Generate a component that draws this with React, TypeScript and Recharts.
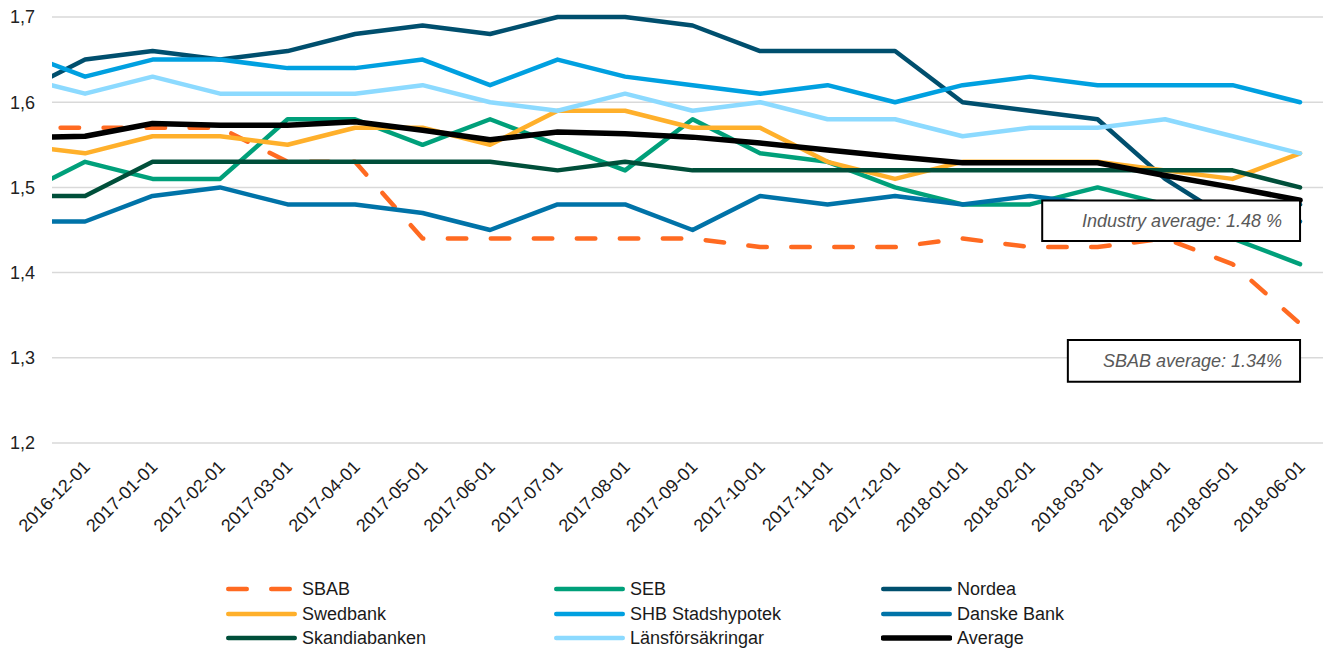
import { LineChart, Line, XAxis, YAxis, CartesianGrid, ReferenceArea, Label } from 'recharts';

const FONT = '"Liberation Sans", Arial, sans-serif';

// first month (2016-11-01) sits left of the visible plot and is clipped
const DATES = [
  '2016-11-01', '2016-12-01', '2017-01-01', '2017-02-01', '2017-03-01', '2017-04-01', '2017-05-01',
  '2017-06-01', '2017-07-01', '2017-08-01', '2017-09-01', '2017-10-01', '2017-11-01', '2017-12-01',
  '2018-01-01', '2018-02-01', '2018-03-01', '2018-04-01', '2018-05-01', '2018-06-01',
];

const SBAB = [1.57, 1.57, 1.57, 1.57, 1.53, 1.53, 1.44, 1.44, 1.44, 1.44, 1.44, 1.43, 1.43, 1.43, 1.44, 1.43, 1.43, 1.44, 1.41, 1.34];
const SEB = [1.49, 1.53, 1.51, 1.51, 1.58, 1.58, 1.55, 1.58, 1.55, 1.52, 1.58, 1.54, 1.53, 1.5, 1.48, 1.48, 1.5, 1.48, 1.44, 1.41];
const NORDEA = [1.61, 1.65, 1.66, 1.65, 1.66, 1.68, 1.69, 1.68, 1.7, 1.7, 1.69, 1.66, 1.66, 1.66, 1.6, 1.59, 1.58, 1.51, 1.46, 1.48];
const SWEDBANK = [1.55, 1.54, 1.56, 1.56, 1.55, 1.57, 1.57, 1.55, 1.59, 1.59, 1.57, 1.57, 1.53, 1.51, 1.53, 1.53, 1.53, 1.52, 1.51, 1.54];
const SHB = [1.66, 1.63, 1.65, 1.65, 1.64, 1.64, 1.65, 1.62, 1.65, 1.63, 1.62, 1.61, 1.62, 1.6, 1.62, 1.63, 1.62, 1.62, 1.62, 1.6];
const DANSKE = [1.46, 1.46, 1.49, 1.5, 1.48, 1.48, 1.47, 1.45, 1.48, 1.48, 1.45, 1.49, 1.48, 1.49, 1.48, 1.49, 1.48, 1.48, 1.47, 1.46];
const SKANDIA = [1.49, 1.49, 1.53, 1.53, 1.53, 1.53, 1.53, 1.53, 1.52, 1.53, 1.52, 1.52, 1.52, 1.52, 1.52, 1.52, 1.52, 1.52, 1.52, 1.5];
const LANSFORSAKRINGAR = [1.63, 1.61, 1.63, 1.61, 1.61, 1.61, 1.62, 1.6, 1.59, 1.61, 1.59, 1.6, 1.58, 1.58, 1.56, 1.57, 1.57, 1.58, 1.56, 1.54];
const AVERAGE = [1.558, 1.56, 1.575, 1.573, 1.573, 1.577, 1.567, 1.556, 1.565, 1.563, 1.559, 1.552, 1.544, 1.536, 1.529, 1.529, 1.529, 1.514, 1.5, 1.485];

const Y_TICKS = [1.2, 1.3, 1.4, 1.5, 1.6, 1.7];
const X_TICKS = DATES.slice(1).map((_, i) => i);

const SERIES = [
  { key: 'SBAB', name: 'SBAB', values: SBAB, color: '#FF6A21', dashed: true },
  { key: 'SEB', name: 'SEB', values: SEB, color: '#00A07A' },
  { key: 'Nordea', name: 'Nordea', values: NORDEA, color: '#004F6E' },
  { key: 'Swedbank', name: 'Swedbank', values: SWEDBANK, color: '#FFB02B' },
  { key: 'SHB', name: 'SHB Stadshypotek', values: SHB, color: '#00A0E0' },
  { key: 'Danske', name: 'Danske Bank', values: DANSKE, color: '#0073A8' },
  { key: 'Skandia', name: 'Skandiabanken', values: SKANDIA, color: '#004F3A' },
  { key: 'LF', name: 'Länsförsäkringar', values: LANSFORSAKRINGAR, color: '#8CDAFF' },
  { key: 'Average', name: 'Average', values: AVERAGE, color: '#000000', width: 5.5 },
];

const data = DATES.map((date, p) => {
  const row: Record<string, number | string> = { idx: p - 1, date };
  SERIES.forEach((s) => {
    row[s.key] = s.values[p];
  });
  return row;
});

const DASH = '18.5 24.5';
const LEGEND_COLS = [226, 554, 881];
const LEGEND_ROWS = [589, 614, 638];

function DateTick({ x, y, payload }: any) {
  return (
    <g transform={`translate(${x + 6},${y + 25})`}>
      <text textAnchor="end" transform="rotate(-45)" fontSize={18} fontFamily={FONT} fill="#1a1a1a">
        {DATES[payload.value + 1]}
      </text>
    </g>
  );
}

function BoxLabel({ viewBox, text }: any) {
  return (
    <text
      x={viewBox.x + viewBox.width - 18}
      y={viewBox.y + viewBox.height / 2}
      textAnchor="end"
      dominantBaseline="central"
      fontSize={18}
      fontStyle="italic"
      fontFamily={FONT}
      fill="#595959"
    >
      {text}
    </text>
  );
}

export default function App() {
  return (
    <div style={{ position: 'absolute', left: 0, top: 0, width: 1323, height: 650, background: '#fff' }}>
      <LineChart width={1323} height={650} data={data} margin={{ top: 17, right: 0, bottom: 107, left: 0 }}>
        <CartesianGrid vertical={false} stroke="#D9D9D9" strokeWidth={1.5} />
        <XAxis
          type="number"
          dataKey="idx"
          domain={[-0.49, 18.34]}
          allowDataOverflow
          ticks={X_TICKS}
          interval={0}
          axisLine={false}
          tickLine={false}
          tickSize={0}
          tickMargin={0}
          height={100}
          tick={<DateTick />}
        />
        <YAxis
          type="number"
          domain={[1.2, 1.7]}
          ticks={Y_TICKS}
          axisLine={false}
          tickLine={false}
          tickSize={0}
          tickMargin={17}
          width={52}
          tickFormatter={(v: number) => v.toFixed(1).replace('.', ',')}
          tick={{ fontSize: 18, fontFamily: FONT, fill: '#222' }}
        />
        {SERIES.map((s) => (
          <Line
            key={s.key}
            dataKey={s.key}
            name={s.name}
            type="linear"
            stroke={s.color}
            strokeWidth={s.width ?? 4.5}
            strokeDasharray={s.dashed ? DASH : undefined}
            strokeLinecap="round"
            strokeLinejoin="round"
            dot={false}
            activeDot={false}
            isAnimationActive={false}
          />
        ))}
        <ReferenceArea
          x1={14.18}
          x2={18}
          y1={1.437}
          y2={1.4845}
          fill="#fff"
          fillOpacity={1}
          stroke="#000"
          strokeWidth={2}
          zIndex={1500}
        >
          <Label content={<BoxLabel text="Industry average: 1.48 %" />} />
        </ReferenceArea>
        <ReferenceArea
          x1={14.56}
          x2={18}
          y1={1.272}
          y2={1.321}
          fill="#fff"
          fillOpacity={1}
          stroke="#000"
          strokeWidth={2}
          zIndex={1500}
        >
          <Label content={<BoxLabel text="SBAB average: 1.34%" />} />
        </ReferenceArea>
      </LineChart>
      {SERIES.map((s, i) => (
        <div
          key={s.key}
          style={{
            position: 'absolute',
            left: LEGEND_COLS[i % 3],
            top: LEGEND_ROWS[Math.floor(i / 3)] - 12,
            height: 24,
            display: 'flex',
            alignItems: 'center',
            fontFamily: FONT,
            fontSize: 18,
            color: '#1a1a1a',
            whiteSpace: 'nowrap',
          }}
        >
          <svg width={71} height={10} style={{ marginRight: 5 }}>
            <line
              x1={2.25}
              y1={5}
              x2={68.75}
              y2={5}
              stroke={s.color}
              strokeWidth={s.width ?? 4.5}
              strokeLinecap="round"
              strokeDasharray={s.dashed ? DASH : undefined}
            />
          </svg>
          <span>{s.name}</span>
        </div>
      ))}
    </div>
  );
}
